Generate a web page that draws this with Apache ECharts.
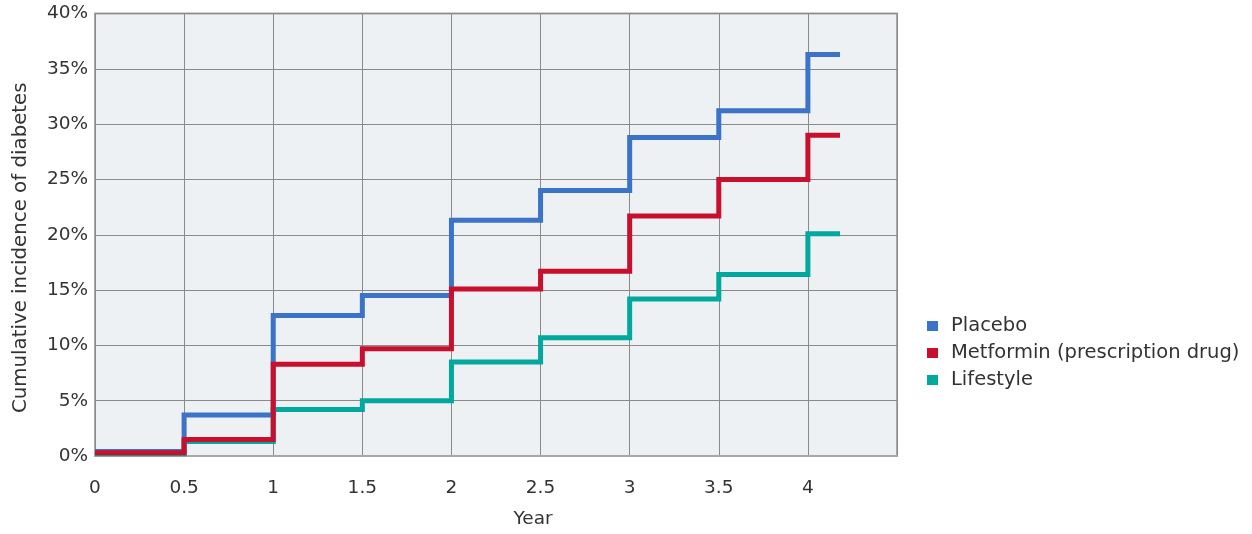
<!DOCTYPE html>
<html>
<head>
<meta charset="utf-8">
<script src="https://cdn.jsdelivr.net/npm/echarts@6/dist/echarts.min.js"></script>
<style>
html,body{margin:0;padding:0;background:#fff;}
#chart{width:1252px;height:534px;}
</style>
</head>
<body>
<div id="chart"></div>
<script>
// Years at which each step begins (last point = end of the curve)
const years = [0, 0.5, 1, 1.5, 2, 2.5, 3, 3.5, 4, 4.18];
// Cumulative incidence (%) from each year onward
const placebo   = [0.4, 3.7, 12.7, 14.5, 21.3, 24.0, 28.8, 31.2, 36.3, 36.3];
const metformin = [0.3, 1.5, 8.3, 9.7, 15.1, 16.7, 21.7, 25.0, 29.0, 29.0];
const lifestyle = [0.2, 1.3, 4.2, 5.0, 8.5, 10.7, 14.2, 16.4, 20.1, 20.1];
const seriesNames = ['Placebo', 'Metformin (prescription drug)', 'Lifestyle'];
const xTicks = [0, 0.5, 1, 1.5, 2, 2.5, 3, 3.5, 4];
const yTicks = [0, 5, 10, 15, 20, 25, 30, 35, 40];

const colors = ['#3b73c9', '#c8102e', '#00a89d'];
const pair = arr => years.map((x, i) => [x, arr[i]]);
const font = 'DejaVu Sans, sans-serif';

const chart = echarts.init(document.getElementById('chart'), null, {renderer: 'canvas'});
const mk = (name, data, color, z) => ({
  name, type: 'line', step: 'end', data: pair(data), showSymbol: false,
  lineStyle: {color, width: 5, cap: 'butt', join: 'miter'}, itemStyle: {color}, z,
  animation: false
});
chart.setOption({
  animation: false,
  color: colors,
  grid: {left: 95, right: 355, top: 13.5, bottom: 75.5, show: true,
         backgroundColor: '#eef1f3', borderColor: '#a8a8a8', borderWidth: 2},
  legend: {
    orient: 'vertical', left: 922, top: 310,
    data: seriesNames, icon: 'rect', itemWidth: 11, itemHeight: 10, itemGap: 5,
    textStyle: {fontFamily: font, fontSize: 19.5, color: '#333', lineHeight: 22, padding: [0, 0, 0, 8]}
  },
  xAxis: {
    type: 'value', min: 0, max: 4.5, interval: 0.5,
    name: 'Year', nameLocation: 'middle', nameGap: 54,
    nameTextStyle: {fontFamily: font, fontSize: 18.5, color: '#333', padding: [0, 0, 0, 74]},
    axisLine: {show: true, lineStyle: {color: '#a8a8a8', width: 2}},
    axisTick: {show: false},
    axisLabel: {margin: 23, fontFamily: font, fontSize: 18.5, color: '#333',
      formatter: v => xTicks.includes(v) ? String(v) : ''},
    splitLine: {show: true, lineStyle: {color: '#8a8a8a', width: 1}}
  },
  yAxis: {
    type: 'value', min: 0, max: 40, interval: 5,
    name: 'Cumulative incidence of diabetes', nameLocation: 'middle', nameGap: 64,
    nameTextStyle: {fontFamily: font, fontSize: 19.8, color: '#333', padding: [0, 26, 0, 0]},
    axisLine: {show: false}, axisTick: {show: false},
    axisLabel: {margin: 7, fontFamily: font, fontSize: 18.5, color: '#333',
      formatter: v => yTicks.includes(v) ? v + '%' : ''},
    splitLine: {show: true, lineStyle: {color: '#8a8a8a', width: 1}}
  },
  series: [
    mk(seriesNames[0], placebo, colors[0], 2),
    mk(seriesNames[2], lifestyle, colors[2], 3),
    mk(seriesNames[1], metformin, colors[1], 4)
  ]
});
</script>
</body>
</html>
